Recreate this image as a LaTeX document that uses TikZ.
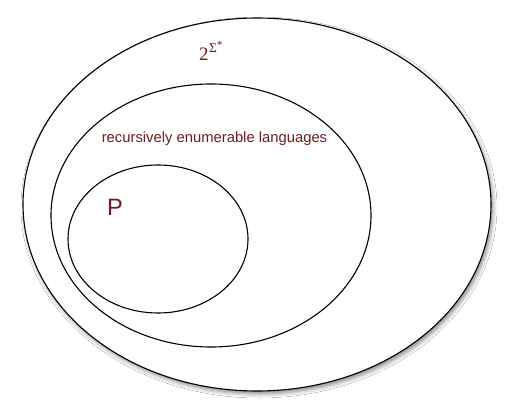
\documentclass[tikz,border=0pt]{standalone}
\usepackage{fontspec}
\setsansfont{Liberation Sans}
\newfontfamily\tnr{Liberation Serif}
\usetikzlibrary{shadows.blur}
\definecolor{lab}{RGB}{116,28,30}
\tikzset{
  set/.style={draw=black, line width=1.1pt},
  lbl/.style={text=lab, font=\sffamily, inner sep=0pt}
}
\begin{document}
\begin{tikzpicture}[x=1pt,y=-1pt]
\useasboundingbox (0,0) rectangle (515,412);
\fill[white] (0,0) rectangle (515,412);
\path[set, fill=white, blur shadow={shadow xshift=2pt, shadow yshift=-3pt, shadow blur radius=4pt, shadow opacity=45}] (257,204.5) ellipse [x radius=234, y radius=186.5];
\node[coordinate] (outer) at (257,204.5) {};
\draw[set] (211,215.5) ellipse [x radius=160, y radius=131.5];
\node[coordinate] (mid) at (211,215.5) {};
\draw[set] (158,239) ellipse [x radius=90, y radius=74];
\node[coordinate] (inner) at (158,239) {};
\node[text=lab, inner sep=0pt, anchor=base west] (sig) at (199,61) {\tnr\fontsize{19}{22}\selectfont 2\kern0.5pt\raisebox{8.5pt}{\fontsize{13.5}{15}\selectfont Σ\raisebox{3.5pt}{\fontsize{11}{12}\selectfont *}}};
\node[lbl, font=\sffamily\fontsize{14.8}{17}\selectfont] (re) at (214.5,139) {recursively enumerable languages};
\node[lbl, font=\sffamily\fontsize{23.7}{26}\selectfont] (p) at (115,207) {P};
\end{tikzpicture}
\end{document}
